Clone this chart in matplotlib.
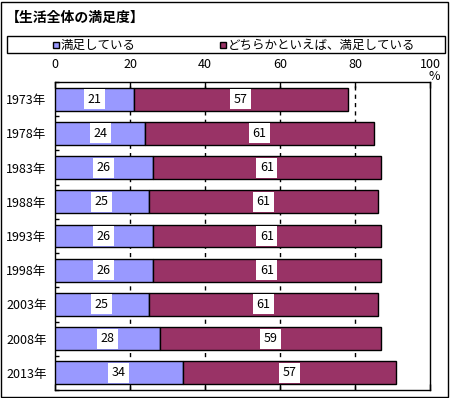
import matplotlib
matplotlib.use("Agg")
import matplotlib.pyplot as plt
from matplotlib.patches import Rectangle
import numpy as np

plt.rcParams['font.family'] = ['Noto Sans CJK JP', 'DejaVu Sans']

# data
years = ["1973年", "1978年", "1983年", "1988年", "1993年", "1998年", "2003年", "2008年", "2013年"]
satisfied = [21, 24, 26, 25, 26, 26, 25, 28, 34]
rather_satisfied = [57, 61, 61, 61, 61, 61, 61, 59, 57]
series_names = ["満足している", "どちらかといえば、満足している"]
colors = ["#9999FF", "#993366"]

W, H = 450, 398
fig = plt.figure(figsize=(W / 100, H / 100), dpi=100)

# outer frame
fig.patches.append(Rectangle((1 / W, 1 / H), (W - 3) / W, (H - 3) / H, transform=fig.transFigure,
                             fill=False, edgecolor="black", linewidth=1))

fig.text(6 / W, 1 - 18 / H, "【生活全体の満足度】", fontsize=10, fontweight="bold", va="center", ha="left")

ax = fig.add_axes([55 / W, 1 - 390 / H, 375 / W, 308 / H])

y = np.arange(len(years))
ax.barh(y, satisfied, height=0.67, color=colors[0], edgecolor="black", linewidth=1, zorder=3)
ax.barh(y, rather_satisfied, left=satisfied, height=0.67, color=colors[1], edgecolor="black", linewidth=1, zorder=3)

for i in range(len(years)):
    ax.text(satisfied[i] / 2, y[i], str(satisfied[i]), ha="center", va="center", fontsize=9,
            bbox=dict(facecolor="white", edgecolor="none", pad=2.5), zorder=4)
    ax.text(satisfied[i] + rather_satisfied[i] / 2, y[i], str(rather_satisfied[i]), ha="center", va="center",
            fontsize=9, bbox=dict(facecolor="white", edgecolor="none", pad=2.5), zorder=4)

ax.set_xlim(0, 100)
ax.set_ylim(len(years) - 0.5, -0.5)
ax.set_yticks(y)
ax.set_yticklabels(years, fontsize=9)
ax.set_yticks(np.arange(len(years) + 1) - 0.5, minor=True)
ax.tick_params(axis="y", which="major", length=0, pad=6)
ax.tick_params(axis="y", which="minor", direction="in", length=3, width=1)

ax.set_xticks([0, 20, 40, 60, 80, 100])
ax.tick_params(axis="x", top=True, bottom=True, labeltop=True, labelbottom=False,
               direction="in", length=4, width=1, labelsize=9, pad=8)
for v in [20, 40, 60, 80]:
    ax.axvline(v, color="black", linestyle=(0, (3, 3)), linewidth=1, zorder=1)

for s in ax.spines.values():
    s.set_linewidth(1)
    s.set_color("black")

fig.text(434 / W, 1 - 77 / H, "%", fontsize=9, ha="center", va="center")

# legend box drawn by hand to match positions
fig.patches.append(Rectangle((7 / W, 1 - 53 / H), 438 / W, 17 / H, transform=fig.transFigure,
                             fill=False, edgecolor="black", linewidth=1))
leg_x = [53, 220]
for x0, name, c in zip(leg_x, series_names, colors):
    fig.patches.append(Rectangle((x0 / W, 1 - 48 / H), 6 / W, 6 / H, transform=fig.transFigure,
                                 facecolor=c, edgecolor="black", linewidth=1))
    fig.text((x0 + 8) / W, 1 - 45 / H, name, fontsize=9, ha="left", va="center")

fig.savefig("out.png", dpi=100)
